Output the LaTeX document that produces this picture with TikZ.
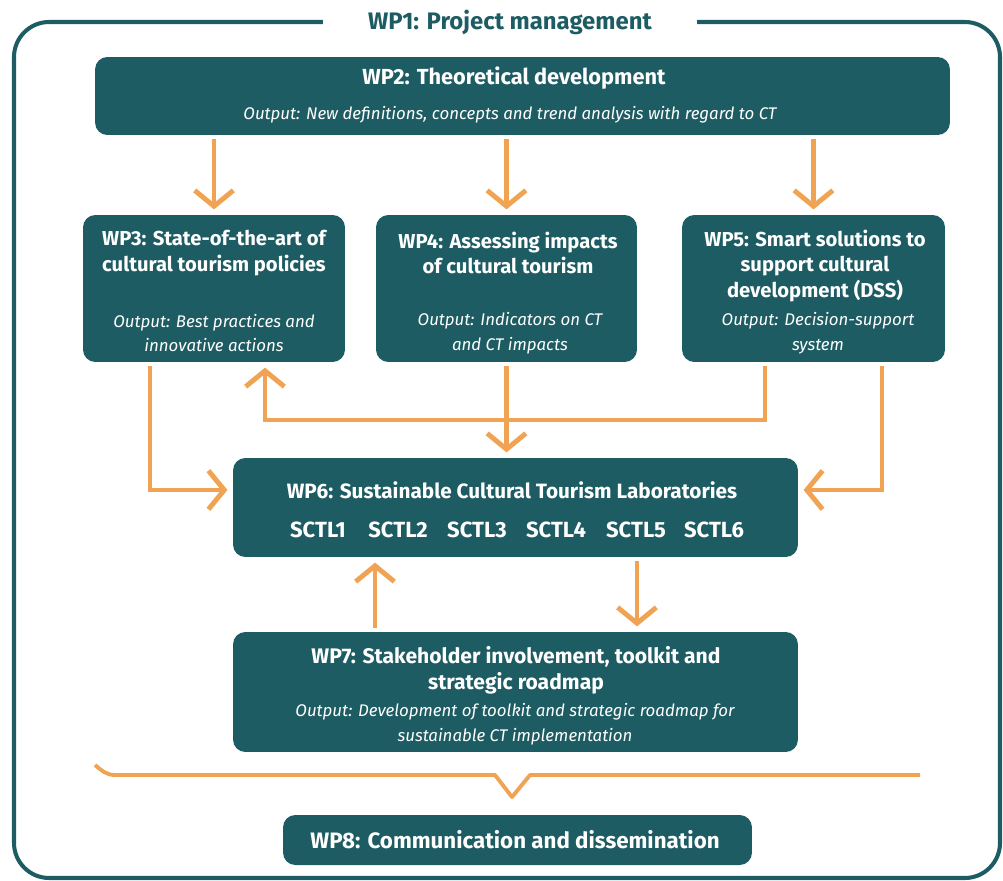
\documentclass[tikz,border=0pt]{standalone}
\usepackage{fontspec}
\setmainfont{Fira Sans}
\usetikzlibrary{arrows.meta}

\definecolor{wpteal}{HTML}{1D5C63}
\definecolor{wporange}{HTML}{F0A352}

\tikzset{
  wpbox/.style={fill=wpteal, rounded corners=7pt, inner sep=0pt},
  wptitle/.style={text=white, align=center, font=\fontsize{11.5}{14.6}\selectfont\bfseries},
  wpout/.style={text=white, align=center, font=\fontsize{9.6}{14}\selectfont\itshape},
  frame/.style={draw=wpteal, line width=2.3pt, rounded corners=20pt},
  flow/.style={draw=wporange, line width=2.8pt, shorten >=3pt, shorten <=2pt,
    -{Straight Barb[length=9pt,width=22pt]}},
}

\begin{document}
\begin{tikzpicture}[x=0.02cm, y=-0.02cm]
\useasboundingbox (0,0) rectangle (1003,881);

% outer frame with its title
\node[text=wpteal, font=\fontsize{13.6}{15}\selectfont\bfseries, inner xsep=0.9cm] (wp1) at (510,22) {WP1: Project management};
\draw[frame] (wp1.west) -| (14,878) -- (1000,878) |- (wp1.east);

% work package boxes
\node[wpbox, minimum width=17.1cm, minimum height=1.56cm] (wp2) at (522.5,96) {};
\node[wpbox, minimum width=5.24cm, minimum height=2.94cm] (wp3) at (214,288.5) {};
\node[wpbox, minimum width=5.22cm, minimum height=2.94cm] (wp4) at (506.5,288.5) {};
\node[wpbox, minimum width=5.26cm, minimum height=2.94cm] (wp5) at (813.5,288.5) {};
\node[wpbox, minimum width=11.3cm, minimum height=1.98cm] (wp6) at (515.5,507.5) {};
\node[wpbox, minimum width=11.3cm, minimum height=2.4cm] (wp7) at (515.5,692) {};
\node[wpbox, minimum width=9.38cm, minimum height=1cm] (wp8) at (517.5,840) {};

% texts
\node[wptitle, font=\fontsize{12.4}{14}\selectfont\bfseries] (wp2t) at (514,78) {WP2: Theoretical development};
\node[wpout] (wp2o) at (510,115) {Output: New definitions, concepts and trend analysis with regard to CT};

\node[wptitle] (wp3t) at (214,253) {WP3: State-of-the-art of\\cultural tourism policies};
\node[wpout] (wp3o) at (214,333) {Output: Best practices and\\innovative actions};

\node[wptitle] (wp4t) at (508,253) {WP4: Assessing impacts\\of cultural tourism};
\node[wpout] (wp4o) at (510,333) {Output: Indicators on CT\\and CT impacts};

\node[wptitle] (wp5t) at (815,266) {WP5: Smart solutions to\\support cultural\\development (DSS)};
\node[wpout] (wp5o) at (818,333) {Output: Decision-support\\system};

\node[wptitle, font=\fontsize{11.8}{14}\selectfont\bfseries] (wp6t) at (512,490) {WP6: Sustainable Cultural Tourism Laboratories};
\foreach \i/\x in {1/318,2/398,3/477,4/556,5/636,6/714}
  \node[wptitle, font=\fontsize{12.5}{14}\selectfont\bfseries] (sctl\i) at (\x,530) {SCTL\i};

\node[wptitle, font=\fontsize{12}{14.6}\selectfont\bfseries] (wp7t) at (516,670) {WP7: Stakeholder involvement, toolkit and\\strategic roadmap};
\node[wpout] (wp7o) at (515,724) {Output: Development of toolkit and strategic roadmap for\\sustainable CT implementation};

\node[wptitle, font=\fontsize{12.7}{14}\selectfont\bfseries] (wp8t) at (515,840) {WP8: Communication and dissemination};

% turning points
\coordinate (c3) at (150,490);
\coordinate (c5) at (765,420);
\coordinate (c3b) at (265,420);
\coordinate (c6) at (882,490);
\coordinate (c7) at (375,595);
\coordinate (c8) at (637,595);

% arrows
\draw[flow] (wp2.south -| wp3.north) -- (wp3.north);
\draw[flow] (wp2.south -| wp4.north) -- (wp4.north);
\draw[flow] (wp2.south -| wp5.north) -- (wp5.north);
\draw[flow] (wp3.south -| c3) |- (wp6.west |- c3);
\draw[flow] (wp4.south) -- (wp6.north -| wp4.south);
\draw[flow] (wp5.south -| c5) -- (c5) -- (c3b) -- (wp3.south -| c3b);
\draw[flow] (wp5.south -| c6) |- (wp6.east |- c6);
\draw[flow] (wp7.north -| c7) -- (wp6.south -| c7);
\draw[flow] (wp6.south -| c8) -- (wp7.north -| c8);

% brace towards WP8
\draw[wporange, line width=2.2pt, line join=round] (95,765) to[out=-40,in=180] (115,775) -- (495,775) -- (512,797) -- (530,775) -- (920,775);
\end{tikzpicture}
\end{document}
